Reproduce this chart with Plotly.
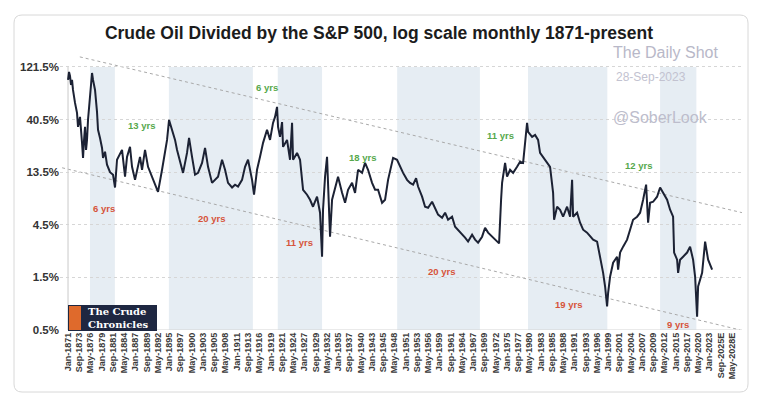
import math
import plotly.graph_objects as go

title_text = "Crude Oil Divided by the S&P 500, log scale monthly 1871-present"

# Crude oil / S&P 500 ratio (percent), x = decimal year
ratio_years = [
    1871.0, 1871.24, 1871.47, 1871.71, 1871.95, 1872.18, 1872.66, 1873.13, 1873.37, 1873.84,
    1874.32, 1874.56, 1874.8, 1875.03, 1875.27, 1875.5, 1875.74, 1876.21, 1876.69, 1876.93,
    1877.4, 1877.87, 1878.11, 1878.58, 1879.06, 1879.3, 1879.77, 1880.24, 1880.95, 1881.67,
    1882.14, 1882.61, 1883.32, 1883.8, 1884.51, 1884.98, 1885.69, 1886.17, 1886.88, 1887.35,
    1888.06, 1888.54, 1889.25, 1889.96, 1890.91, 1891.62, 1892.33, 1893.28, 1893.99, 1894.47,
    1894.94, 1895.65, 1896.36, 1896.84, 1897.55, 1898.26, 1899.2, 1899.68, 1900.39, 1901.1,
    1901.81, 1902.76, 1903.47, 1904.18, 1905.13, 1905.84, 1906.55, 1907.5, 1908.21, 1908.92,
    1909.87, 1910.58, 1911.29, 1912.24, 1912.95, 1913.66, 1914.61, 1915.08, 1915.79, 1916.5,
    1917.22, 1918.16, 1918.87, 1919.58, 1920.06, 1920.53, 1920.77, 1921.24, 1921.72, 1921.96,
    1922.9, 1923.61, 1924.09, 1924.33, 1925.27, 1925.98, 1926.7, 1927.64, 1928.35, 1929.06,
    1930.01, 1930.72, 1931.2, 1931.43, 1931.91, 1932.38, 1932.62, 1933.09, 1933.57, 1934.28,
    1934.99, 1935.94, 1936.65, 1937.36, 1938.31, 1939.02, 1939.73, 1940.68, 1941.39, 1942.1,
    1943.05, 1943.76, 1944.47, 1945.42, 1946.13, 1946.84, 1947.31, 1948.03, 1948.97, 1949.68,
    1950.4, 1951.34, 1952.05, 1952.77, 1953.48, 1953.95, 1954.9, 1955.61, 1956.32, 1957.27,
    1957.98, 1958.69, 1959.64, 1960.35, 1961.06, 1962.01, 1962.72, 1963.43, 1964.38, 1965.09,
    1965.8, 1966.75, 1967.46, 1968.17, 1969.12, 1969.83, 1970.54, 1971.49, 1972.2, 1972.91,
    1973.15, 1973.62, 1973.86, 1974.57, 1975.04, 1975.75, 1976.47, 1977.41, 1978.12, 1978.84,
    1979.31, 1979.78, 1980.02, 1980.97, 1981.68, 1982.39, 1982.86, 1983.58, 1984.52, 1985.23,
    1985.95, 1986.18, 1986.89, 1987.6, 1988.32, 1989.26, 1989.97, 1990.45, 1990.69, 1991.63,
    1992.34, 1993.06, 1994.0, 1994.71, 1995.43, 1996.37, 1997.08, 1997.8, 1998.27, 1998.74,
    1998.98, 1999.45, 2000.17, 2001.11, 2001.35, 2001.82, 2002.54, 2003.48, 2004.19, 2004.9,
    2005.85, 2006.56, 2007.28, 2007.99, 2008.46, 2008.93, 2009.65, 2010.59, 2011.3, 2012.02,
    2012.96, 2013.67, 2014.38, 2014.62, 2015.33, 2015.57, 2016.04, 2016.75, 2017.7, 2018.41,
    2019.12, 2019.6, 2020.07, 2020.31, 2021.26, 2021.97, 2022.68, 2023.63,
]
ratio_pct = [
    92.7, 109.5, 100.7, 83.5, 92.7, 75.2, 57.4, 46.6, 34.8, 42.8,
    24.9, 18.2, 26.5, 34.8, 21.5, 26.5, 40.2, 70.7, 107.2, 92.7,
    75.2, 47.6, 32.7, 27.6, 22.4, 18.2, 20.7, 15.8, 13.5, 12.8,
    9.8, 17.5, 20.2, 21.5, 12.3, 18.6, 22.9, 15.1, 11.5, 14.2,
    18.6, 14.2, 21.5, 15.1, 12.3, 10.8, 8.96, 14.2, 20.2, 26.5,
    40.2, 32.7, 26.5, 21.5, 16.4, 13.3, 20.2, 27.6, 18.6, 12.8,
    13.3, 16.4, 22.4, 15.1, 10.8, 11.5, 12.3, 17.5, 14.2, 10.8,
    9.8, 10.4, 10.0, 11.5, 15.1, 17.5, 11.5, 8.43, 14.2, 18.6,
    24.9, 32.7, 26.5, 37.8, 42.8, 52.8, 34.8, 28.2, 38.4, 22.9,
    26.5, 17.5, 37.8, 17.5, 20.2, 17.5, 9.35, 8.43, 7.59, 6.56,
    8.09, 5.79, 2.31, 6.16, 12.3, 18.6, 8.77, 3.51, 7.59, 10.0,
    12.3, 8.77, 7.13, 9.35, 10.8, 8.77, 14.2, 13.3, 16.4, 14.2,
    10.8, 9.35, 9.35, 7.13, 7.59, 11.5, 14.2, 18.2, 17.5, 15.1,
    13.3, 11.5, 10.8, 10.4, 11.9, 10.0, 8.09, 6.56, 6.43, 7.28,
    6.43, 5.56, 5.22, 5.79, 5.0, 5.33, 4.32, 4.06, 3.66, 3.44,
    3.17, 3.66, 3.30, 3.10, 3.51, 4.23, 3.82, 3.51, 3.30, 3.10,
    3.05, 7.59, 10.8, 16.4, 12.3, 14.2, 13.3, 15.1, 16.8, 16.4,
    26.5, 37.8, 31.3, 28.2, 29.4, 26.5, 20.2, 18.6, 16.4, 15.1,
    8.77, 5.0, 6.56, 6.16, 5.33, 6.56, 5.33, 11.5, 5.33, 5.79,
    4.70, 4.06, 3.82, 3.51, 3.30, 3.17, 2.31, 1.65, 1.24, 0.82,
    1.08, 1.52, 2.04, 2.31, 1.76, 2.52, 2.85, 3.30, 4.06, 5.0,
    5.33, 5.79, 7.59, 10.4, 4.70, 7.13, 7.28, 8.09, 9.8, 8.77,
    7.59, 6.16, 5.33, 2.52, 2.17, 1.65, 2.17, 2.31, 2.52, 2.85,
    2.17, 1.52, 0.66, 1.24, 1.65, 3.17, 2.17, 1.76,
]
assert len(ratio_years) == len(ratio_pct)

y_tick_values = [0.5, 1.5, 4.5, 13.5, 40.5, 121.5]
y_tick_labels = ["0.5%", "1.5%", "4.5%", "13.5%", "40.5%", "121.5%"]

x_tick_labels = [
    "Jan-1871", "Sep-1873", "May-1876", "Jan-1879", "Sep-1881", "May-1884", "Jan-1887",
    "Sep-1889", "May-1892", "Jan-1895", "Sep-1897", "May-1900", "Jan-1903", "Sep-1905",
    "May-1908", "Jan-1911", "Sep-1913", "May-1916", "Jan-1919", "Sep-1921", "May-1924",
    "Jan-1927", "Sep-1929", "May-1932", "Jan-1935", "Sep-1937", "May-1940", "Jan-1943",
    "Sep-1945", "May-1948", "Jan-1951", "Sep-1953", "May-1956", "Jan-1959", "Sep-1961",
    "May-1964", "Jan-1967", "Sep-1969", "May-1972", "Jan-1975", "Sep-1977", "May-1980",
    "Jan-1983", "Sep-1985", "May-1988", "Jan-1991", "Sep-1993", "May-1996", "Jan-1999",
    "Sep-2001", "May-2004", "Jan-2007", "Sep-2009", "May-2012", "Jan-2015", "Sep-2017",
    "May-2020", "Jan-2023", "Sep-2025E", "May-2028E",
]

# shaded (declining) periods
band_starts = [1876.2, 1894.9, 1920.7, 1949.0, 1980.0, 2011.3]
band_ends = [1882.1, 1914.8, 1931.2, 1968.6, 1998.8, 2019.9]

# channel lines
upper_trend_years = [1873.8, 2030.7]
upper_trend_pct = [150.0, 5.8]
lower_trend_years = [1869.6, 2030.3]
lower_trend_pct = [14.8, 0.5]

label_texts = ["6 yrs", "20 yrs", "11 yrs", "20 yrs", "19 yrs", "9 yrs",
               "13 yrs", "6 yrs", "18 yrs", "11 yrs", "12 yrs"]
label_years = [1879.5, 1905.1, 1925.8, 1959.4, 1989.5, 2015.6,
               1888.5, 1918.2, 1940.7, 1973.6, 2006.1]
label_pct = [6.29, 5.11, 3.10, 1.69, 0.85, 0.56,
             35.5, 78.4, 18.2, 28.8, 15.4]
label_is_up = [False, False, False, False, False, False,
               True, True, True, True, True]

MONTHS = {"Jan": 0, "Feb": 1, "Mar": 2, "Apr": 3, "May": 4, "Jun": 5,
          "Jul": 6, "Aug": 7, "Sep": 8, "Oct": 9, "Nov": 10, "Dec": 11}
x_tick_vals = [int(t[4:8]) + MONTHS[t[:3]] / 12 for t in x_tick_labels]

X_RANGE = [1869.10, 2030.71]
Y_TOP = 159.3

FONT = "Liberation Sans, Arial, sans-serif"
RED = "#d6543a"
GREEN = "#56a84c"

fig = go.Figure()
fig.add_trace(go.Scatter(
    x=ratio_years, y=ratio_pct, mode="lines",
    line=dict(color="#1c2234", width=2),
    hoverinfo="skip", showlegend=False,
))

shapes = []
for x0, x1 in zip(band_starts, band_ends):
    shapes.append(dict(type="rect", xref="x", yref="y", x0=x0, x1=x1,
                       y0=y_tick_values[0], y1=y_tick_values[-1],
                       fillcolor="#e6edf3", line=dict(width=0), layer="below"))
for xs, ys in ((upper_trend_years, upper_trend_pct), (lower_trend_years, lower_trend_pct)):
    shapes.append(dict(type="line", xref="x", yref="y", x0=xs[0], x1=xs[1],
                       y0=ys[0], y1=ys[1],
                       line=dict(color="#a9a9a9", width=1, dash="dot"), layer="below"))
# axis lines
shapes.append(dict(type="line", xref="x", yref="y", x0=ratio_years[0], x1=ratio_years[0],
                   y0=y_tick_values[0], y1=y_tick_values[-1],
                   line=dict(color="#c9c9c9", width=1), layer="below"))
shapes.append(dict(type="line", xref="x", yref="y", x0=ratio_years[0], x1=X_RANGE[1],
                   y0=y_tick_values[0], y1=y_tick_values[0],
                   line=dict(color="#d4d4d4", width=1), layer="below"))

# card border (rounded)
L, R, W_PLOT, H_PLOT, T, B = 60, 16, 682, 276, 54, 77
def px2paper(px, py):
    return (px - L) / W_PLOT, (T + H_PLOT - py) / H_PLOT
cx0, cy0 = px2paper(14, 15)
cx1, cy1 = px2paper(748, 392)
rx, ry = 8 / W_PLOT, 8 / H_PLOT
path = (f"M {cx0+rx},{cy0} L {cx1-rx},{cy0} Q {cx1},{cy0} {cx1},{cy0-ry} "
        f"L {cx1},{cy1+ry} Q {cx1},{cy1} {cx1-rx},{cy1} L {cx0+rx},{cy1} "
        f"Q {cx0},{cy1} {cx0},{cy1+ry} L {cx0},{cy0-ry} Q {cx0},{cy0} {cx0+rx},{cy0} Z")
shapes.append(dict(type="path", xref="paper", yref="paper", path=path,
                   line=dict(color="#d8d8d8", width=1), layer="below"))

# logo
lx0, ly0 = px2paper(68, 305)
lx1, ly1 = px2paper(157, 331)
shapes.append(dict(type="rect", xref="paper", yref="paper", x0=lx0, x1=lx1, y0=ly1, y1=ly0,
                   fillcolor="#1e2741", line=dict(width=0), layer="above"))
ox0, oy0 = px2paper(69, 306)
ox1, oy1 = px2paper(81, 330)
shapes.append(dict(type="rect", xref="paper", yref="paper", x0=ox0, x1=ox1, y0=oy1, y1=oy0,
                   fillcolor="#df6a2c", line=dict(width=0), layer="above"))

annotations = []
for txt, yr, pct, up in zip(label_texts, label_years, label_pct, label_is_up):
    annotations.append(dict(x=yr, y=math.log10(pct), xref="x", yref="y", text=f"<b>{txt}</b>",
                            showarrow=False, xanchor="center", yanchor="middle",
                            font=dict(family=FONT, size=9.5, color=GREEN if up else RED)))

for txt, (px, py), size, col in (("The Daily Shot", (665, 53), 16, "#b8b8c8"),
                                  ("28-Sep-2023", (651, 77), 12, "#c2c2d0"),
                                  ("@SoberLook", (660, 117), 16, "#bdbdcc")):
    wx, wy = px2paper(px, py)
    annotations.append(dict(x=wx, y=wy, xref="paper", yref="paper", text=txt,
                            xanchor="center", yanchor="middle", showarrow=False,
                            font=dict(family=FONT, size=size, color=col)))
tx, ty = px2paper(86, 318)
annotations.append(dict(x=tx, y=ty, xref="paper", yref="paper", xanchor="left", yanchor="middle",
                        text="<b>The Crude<br>Chronicles</b>", align="left", showarrow=False,
                        font=dict(family="DejaVu Serif, serif", size=10, color="#ffffff")))

fig.update_layout(
    width=758, height=407,
    margin=dict(l=L, r=R, t=T, b=B),
    paper_bgcolor="white", plot_bgcolor="white",
    title=dict(text=f"<b>{title_text}</b>", x=0.5, xref="container", xanchor="center",
               y=1 - 33 / 407, yref="container", yanchor="middle",
               font=dict(family=FONT, size=17.5, color="#1c1c1c")),
    xaxis=dict(range=X_RANGE, tickvals=x_tick_vals, ticktext=x_tick_labels, tickangle=-90,
               tickfont=dict(family=FONT, size=9, color="#3a3a3a", weight="bold"),
               showgrid=False, zeroline=False, showline=False, ticks=""),
    yaxis=dict(type="log", range=[math.log10(y_tick_values[0]), math.log10(Y_TOP)],
               tickvals=y_tick_values, ticktext=y_tick_labels,
               tickfont=dict(family=FONT, size=11.5, color="#333333", weight="bold"),
               showgrid=True, gridcolor="#d6d6d6", griddash="dot", gridwidth=1,
               zeroline=False, showline=False, ticks=""),
    shapes=shapes, annotations=annotations,
)

fig.write_html("out.html")
